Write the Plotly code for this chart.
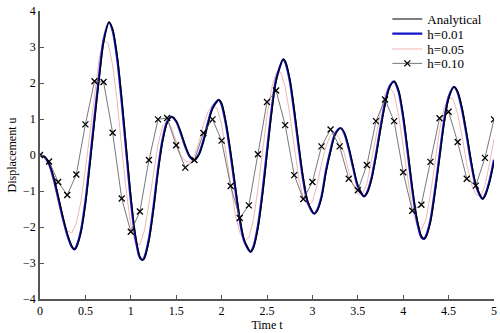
import plotly.graph_objects as go

# Time samples of the smooth curves (extra samples at the turning points)
t_fine = [0, 0.05, 0.10, 0.15, 0.20, 0.25, 0.30, 0.35, 0.38, 0.40, 0.45, 0.50, 0.55, 0.60,
          0.65, 0.70, 0.76, 0.80, 0.85, 0.90, 0.95, 1.00, 1.05, 1.10, 1.13, 1.15, 1.20, 1.25,
          1.30, 1.35, 1.40, 1.45, 1.50, 1.55, 1.60, 1.65, 1.70, 1.75, 1.80, 1.85, 1.90, 1.97,
          2.00, 2.05, 2.10, 2.15, 2.20, 2.25, 2.32, 2.35, 2.40, 2.45, 2.50, 2.55, 2.60, 2.68,
          2.70, 2.75, 2.80, 2.85, 2.90, 2.95, 3.02, 3.05, 3.10, 3.15, 3.20, 3.25, 3.31, 3.35,
          3.40, 3.45, 3.50, 3.57, 3.60, 3.65, 3.70, 3.75, 3.80, 3.85, 3.90, 3.95, 4.00, 4.05,
          4.10, 4.15, 4.20, 4.23, 4.25, 4.30, 4.35, 4.40, 4.45, 4.50, 4.56, 4.60, 4.65, 4.70,
          4.75, 4.80, 4.875, 4.90, 4.95, 5.00]

u_analytical = [0, -0.04, -0.22, -0.60, -1.12, -1.68, -2.17, -2.52, -2.62, -2.58, -2.18, -1.40,
                -0.30, 0.90, 2.05, 3.10, 3.70, 3.51, 2.78, 1.62, 0.25, -1.10, -2.19, -2.81, -2.92,
                -2.88, -2.40, -1.55, -0.50, 0.35, 0.88, 1.06, 0.95, 0.65, 0.27, -0.03, -0.14, 0.00,
                0.36, 0.84, 1.27, 1.53, 1.45, 0.90, 0.10, -0.82, -1.72, -2.35, -2.69, -2.60, -2.06,
                -1.15, -0.02, 1.12, 2.03, 2.66, 2.62, 2.15, 1.30, 0.30, -0.62, -1.28, -1.63, -1.57,
                -1.21, -0.50, 0.08, 0.55, 0.75, 0.64, 0.24, -0.31, -0.83, -1.15, -1.08, -0.71, -0.07,
                0.68, 1.38, 1.87, 2.05, 1.81, 1.13, 0.17, -0.86, -1.73, -2.24, -2.33, -2.29, -1.88,
                -1.08, -0.12, 0.84, 1.55, 1.89, 1.77, 1.30, 0.61, -0.16, -0.80, -1.22, -1.15, -0.78,
                -0.20]

u_h001 = [0, -0.05, -0.25, -0.65, -1.19, -1.74, -2.22, -2.55, -2.62, -2.54, -2.11, -1.29,
          -0.16, 1.04, 2.18, 3.19, 3.68, 3.45, 2.67, 1.47, 0.09, -1.25, -2.29, -2.86, -2.91,
          -2.84, -2.32, -1.44, -0.39, 0.43, 0.92, 1.06, 0.93, 0.61, 0.23, -0.05, -0.14, 0.03,
          0.41, 0.90, 1.31, 1.53, 1.40, 0.82, 0.00, -0.93, -1.81, -2.40, -2.69, -2.55, -1.97,
          -1.03, 0.12, 1.24, 2.10, 2.66, 2.58, 2.07, 1.19, 0.19, -0.72, -1.33, -1.63, -1.54,
          -1.15, -0.42, 0.14, 0.59, 0.75, 0.61, 0.18, -0.37, -0.87, -1.15, -1.05, -0.65, 0.01,
          0.77, 1.45, 1.91, 2.04, 1.75, 1.03, 0.05, -0.97, -1.81, -2.29, -2.33, -2.25, -1.81,
          -0.97, -0.01, 0.94, 1.61, 1.89, 1.73, 1.23, 0.52, -0.25, -0.85, -1.22, -1.12, -0.72,
          -0.13]

# Step h = 0.05
t_h005 = [round(0.05 * i, 2) for i in range(101)]
u_h005 = [0, -0.08, -0.30, -0.75, -1.30, -1.80, -2.10, -2.17, -1.90, -1.30, -0.40, 0.65,
          1.70, 2.65, 3.20, 3.10, 2.50, 1.50, 0.20, -1.00, -1.95, -2.45, -2.50, -2.10, -1.35,
          -0.50, 0.30, 0.80, 0.95, 0.75, 0.35, 0.00, -0.17, -0.20, -0.02, 0.35, 0.85, 1.20,
          1.40, 1.30, 0.85, 0.05, -0.85, -1.65, -2.15, -2.38, -2.30, -1.80, -0.95, 0.10, 1.10,
          1.85, 2.28, 2.30, 1.90, 1.15, 0.20, -0.65, -1.20, -1.40, -1.30, -0.85, -0.25, 0.25,
          0.55, 0.63, 0.45, 0.05, -0.45, -0.85, -1.08, -1.10, -0.80, -0.20, 0.50, 1.20, 1.70,
          1.89, 1.70, 1.10, 0.25, -0.70, -1.50, -1.95, -2.08, -1.80, -1.10, -0.20, 0.70, 1.30,
          1.60, 1.55, 1.15, 0.50, -0.25, -0.80, -1.10, -1.15, -0.85, -0.25, 0.45]

# Step h = 0.10
t_h010 = [round(0.1 * i, 1) for i in range(51)]
u_h010 = [0, -0.18, -0.75, -1.11, -0.54, 0.85, 2.05, 2.03, 0.62, -1.21, -2.13, -1.57, -0.14,
          0.99, 1.03, 0.27, -0.35, -0.14, 0.61, 0.99, 0.40, -0.86, -1.75, -1.40, 0.02, 1.47,
          1.79, 0.83, -0.56, -1.22, -0.75, 0.24, 0.71, 0.24, -0.66, -0.98, -0.28, 0.94, 1.54,
          0.94, -0.48, -1.55, -1.38, -0.19, 1.02, 1.20, 0.36, -0.66, -0.85, -0.08, 0.99]

x_ticks = [0, 0.5, 1, 1.5, 2, 2.5, 3, 3.5, 4, 4.5, 5]
x_tick_text = ["0", "0.5", "1", "1.5", "2", "2.5", "3", "3.5", "4", "4.5", "5"]
y_ticks = [-4, -3, -2, -1, 0, 1, 2, 3, 4]

SERIF = "Liberation Serif, Times New Roman, serif"

fig = go.Figure()

fig.add_trace(go.Scatter(
    x=t_h005, y=u_h005, name="h=0.05", mode="lines", legend="legend3",
    line=dict(color="#f2b6b6", width=1),
))
fig.add_trace(go.Scatter(
    x=t_fine, y=u_h001, name="h=0.01", mode="lines", legend="legend2",
    line=dict(color="#1414c8", width=2.2, shape="spline", smoothing=0.8),
))
fig.add_trace(go.Scatter(
    x=t_fine, y=u_analytical, name="Analytical", mode="lines", legend="legend",
    line=dict(color="#000000", width=1.2, shape="spline", smoothing=0.8),
))
fig.add_trace(go.Scatter(
    x=t_h010, y=u_h010, name="h=0.10", mode="lines+markers", legend="legend4",
    line=dict(color="#555555", width=0.8),
    marker=dict(symbol="x-thin", size=6, color="#000000",
                line=dict(color="#000000", width=1.3)),
))

axis_common = dict(
    showgrid=False, zeroline=False, showline=True, linecolor="#555555", linewidth=1.5,
    ticks="inside", ticklen=4, tickwidth=1, tickcolor="#555555",
    tickfont=dict(family=SERIF, size=12, color="#000000"),
    ticklabeloverflow="allow", mirror=False,
)


def legend_row(y):
    # one legend box per entry so the rows sit tightly stacked
    return dict(
        x=0.765, y=y, xanchor="left", yanchor="middle",
        bgcolor="rgba(0,0,0,0)", borderwidth=0,
        font=dict(family=SERIF, size=13, color="#000000"),
        itemwidth=30,
    )


fig.update_layout(
    width=500, height=333,
    margin=dict(l=40, r=6, t=4, b=34),
    paper_bgcolor="white", plot_bgcolor="white",
    font=dict(family=SERIF, size=12, color="#000000"),
    showlegend=True,
    legend=legend_row(0.972),
    legend2=legend_row(0.921),
    legend3=legend_row(0.868),
    legend4=legend_row(0.818),
    xaxis=dict(
        range=[0, 5], tickvals=x_ticks, ticktext=x_tick_text,
        title=dict(text="Time t", font=dict(family=SERIF, size=12), standoff=2),
        **axis_common,
    ),
    yaxis=dict(
        range=[-4, 4], tickvals=y_ticks,
        title=dict(text="Displacement u", font=dict(family=SERIF, size=12), standoff=4),
        **axis_common,
    ),
)

fig.write_html("out.html")
